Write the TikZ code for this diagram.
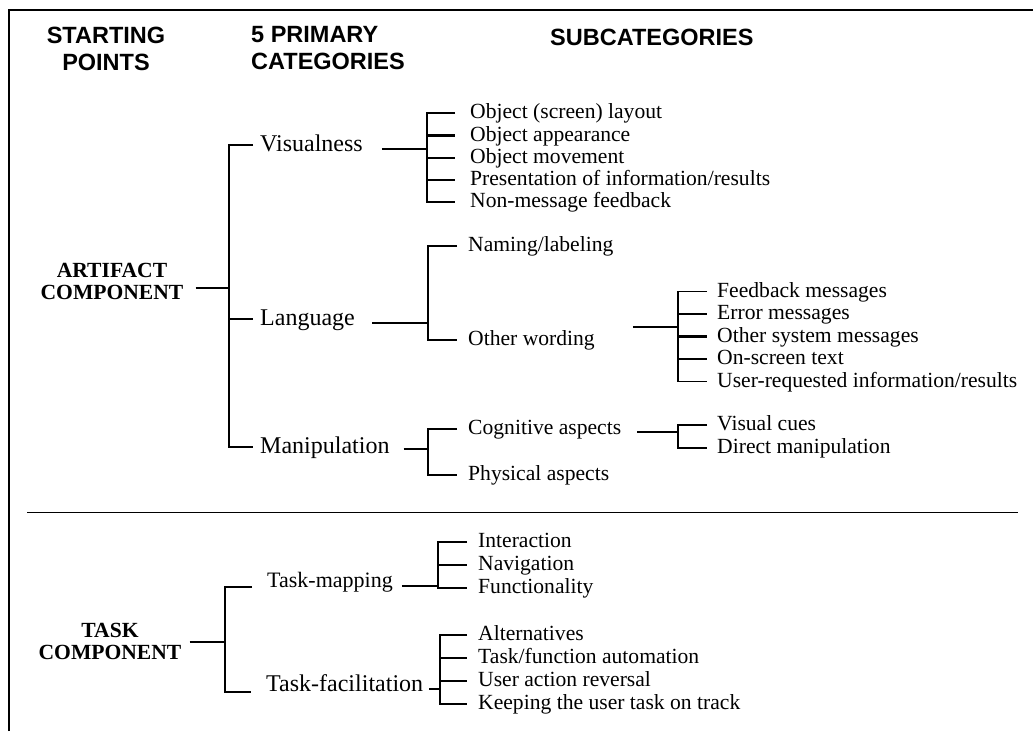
\documentclass[tikz,border=0pt]{standalone}
\usepackage{fontspec}
\setmainfont{Liberation Serif}
\newfontfamily\hdrfont{Liberation Sans}
\usetikzlibrary{calc}
\begin{document}
\begin{tikzpicture}[x=1pt,y=-1pt,
  hdr/.style={font=\hdrfont\bfseries\fontsize{23.5}{27}\selectfont, inner sep=0},
  comp/.style={font=\bfseries\fontsize{21.6}{22}\selectfont, inner sep=0, align=center},
  prim/.style={font=\fontsize{24}{28}\selectfont, inner sep=0, anchor=west, text height=17pt, text depth=4pt},
  sub/.style={font=\fontsize{21.6}{26}\selectfont, inner sep=0, anchor=west, text height=15pt, text depth=4pt},
  ln/.style={line width=1.8pt},
  tk/.style={line width=2.8pt},
  frameline/.style={line width=2.4pt},
]
\useasboundingbox (0,0) rectangle (1033,731);

% frame and divider
\coordinate (fb) at (9,731);
\coordinate (fc) at (9,10);
\coordinate (fr) at (1033,10);
\draw[frameline] (fb) -- (fc) -- (fr);
\coordinate (dl) at (27,512.5);
\coordinate (dr) at (1018,512.5);
\draw[line width=1.8pt] (dl) -- (dr);

% headers
\node[hdr, align=center] (h1) at (106,48.5) {STARTING\\POINTS};
\node[hdr, align=left, anchor=west] (h2) at (251,48.5) {5 PRIMARY\\CATEGORIES};
\node[hdr, anchor=west] (h3) at (550,37) {SUBCATEGORIES};

% ---------------- artifact component
\node[comp] (art) at (112,281) {ARTIFACT\\COMPONENT};
\node[prim] (vis) at (260,145) {Visualness};
\node[prim] (lang) at (260,319) {Language};
\node[prim] (man) at (260,447) {Manipulation};

\coordinate (asp) at (229,288);
\draw[tk] ($(art.east)+(12,7)$) -- (asp);
\draw[ln] ($(vis.west)+(-7,0)$) -- (asp |- vis.west) -- (asp |- man.west) -- ($(man.west)+(-7,0)$);
\draw[ln] (asp |- lang.west) -- ($(lang.west)+(-7,0)$);

% visualness subcategories
\node[sub] (v1) at (470,113) {Object (screen) layout};
\node[sub] (v2) at (470,135.5) {Object appearance};
\node[sub] (v3) at (470,158) {Object movement};
\node[sub] (v4) at (470,180) {Presentation of information/results};
\node[sub] (v5) at (470,202) {Non-message feedback};
\coordinate (vsp) at (427,149);
\draw[tk] ($(vis.east)+(19,4)$) -- (vsp);
\draw[tk] ($(v1.west)+(-15,0)$) -- (vsp |- v1.west) -- (vsp |- v5.west) -- ($(v5.west)+(-15,0)$);
\draw[tk] (vsp |- v2.west) -- ($(v2.west)+(-15,0)$);
\draw[ln] (vsp |- v3.west) -- ($(v3.west)+(-15,0)$);
\draw[ln] (vsp |- v4.west) -- ($(v4.west)+(-15,0)$);

% language subcategories
\node[sub] (n1) at (468,246) {Naming/labeling};
\node[sub] (n2) at (468,340) {Other wording};
\coordinate (lsp) at (428,323);
\draw[ln] ($(lang.east)+(17,4)$) -- (lsp);
\draw[ln] ($(n1.west)+(-11,0)$) -- (lsp |- n1.west) -- (lsp |- n2.west) -- ($(n2.west)+(-11,0)$);

% other wording subcategories
\node[sub] (o1) at (717,291.5) {Feedback messages};
\node[sub] (o2) at (717,314) {Error messages};
\node[sub] (o3) at (717,336.5) {Other system messages};
\node[sub] (o4) at (717,359) {On-screen text};
\node[sub] (o5) at (717,381.5) {User-requested information/results};
\coordinate (osp) at (678,327);
\draw[tk] ($(n2.east)+(38,-13)$) -- (osp);
\draw[ln] ($(o1.west)+(-10,0)$) -- (osp |- o1.west) -- (osp |- o5.west) -- ($(o5.west)+(-10,0)$);
\draw[tk] (osp |- o2.west) -- ($(o2.west)+(-10,0)$);
\draw[tk] (osp |- o3.west) -- ($(o3.west)+(-10,0)$);
\draw[tk] (osp |- o4.west) -- ($(o4.west)+(-10,0)$);

% manipulation subcategories
\node[sub] (c1) at (468,429) {Cognitive aspects};
\node[sub] (c2) at (468,475) {Physical aspects};
\coordinate (msp) at (428,449);
\draw[ln] ($(man.east)+(14,2)$) -- (msp);
\draw[ln] ($(c1.west)+(-11,0)$) -- (msp |- c1.west) -- (msp |- c2.west) -- ($(c2.west)+(-11,0)$);

% cognitive subcategories
\node[sub] (d1) at (717,425) {Visual cues};
\node[sub] (d2) at (717,448) {Direct manipulation};
\coordinate (csp) at (678,432);
\draw[tk] ($(c1.east)+(16,3)$) -- (csp);
\draw[ln] ($(d1.west)+(-10,0)$) -- (csp |- d1.west) -- (csp |- d2.west) -- ($(d2.west)+(-10,0)$);

% ---------------- task component
\node[comp] (task) at (110,641) {TASK\\COMPONENT};
\node[prim, font=\fontsize{22}{26}\selectfont] (tm) at (267,581) {Task-mapping};
\node[prim] (tf) at (266,685) {Task-facilitation};
\coordinate (tsp) at (225,642);
\coordinate (tt) at ($(tm.west)+(0,6)$);
\coordinate (tb) at ($(tf.west)+(0,7)$);
\draw[ln] ($(task.east)+(8,1)$) -- (tsp);
\draw[tk] ($(tt)+(-15,0)$) -- (tsp |- tt) -- (tsp |- tb) -- ($(tb)+(-15,0)$);

% task-mapping subcategories
\node[sub] (i1) at (478,542) {Interaction};
\node[sub] (i2) at (478,565) {Navigation};
\node[sub] (i3) at (478,588) {Functionality};
\coordinate (psp) at (438,586);
\draw[ln] ($(tm.east)+(9,5)$) -- (psp);
\draw[tk] ($(i1.west)+(-11,0)$) -- (psp |- i1.west) -- (psp |- i3.west) -- ($(i3.west)+(-11,0)$);
\draw[tk] (psp |- i2.west) -- ($(i2.west)+(-11,0)$);

% task-facilitation subcategories
\node[sub] (a1) at (478,635) {Alternatives};
\node[sub] (a2) at (478,658) {Task/function automation};
\node[sub] (a3) at (478,681) {User action reversal};
\node[sub] (a4) at (478,704) {Keeping the user task on track};
\coordinate (fsp) at (440,689);
\draw[tk] ($(tf.east)+(6,4)$) -- (fsp);
\draw[tk] ($(a1.west)+(-11,0)$) -- (fsp |- a1.west) -- (fsp |- a4.west) -- ($(a4.west)+(-11,0)$);
\draw[tk] (fsp |- a2.west) -- ($(a2.west)+(-11,0)$);
\draw[tk] (fsp |- a3.west) -- ($(a3.west)+(-11,0)$);
\end{tikzpicture}
\end{document}
